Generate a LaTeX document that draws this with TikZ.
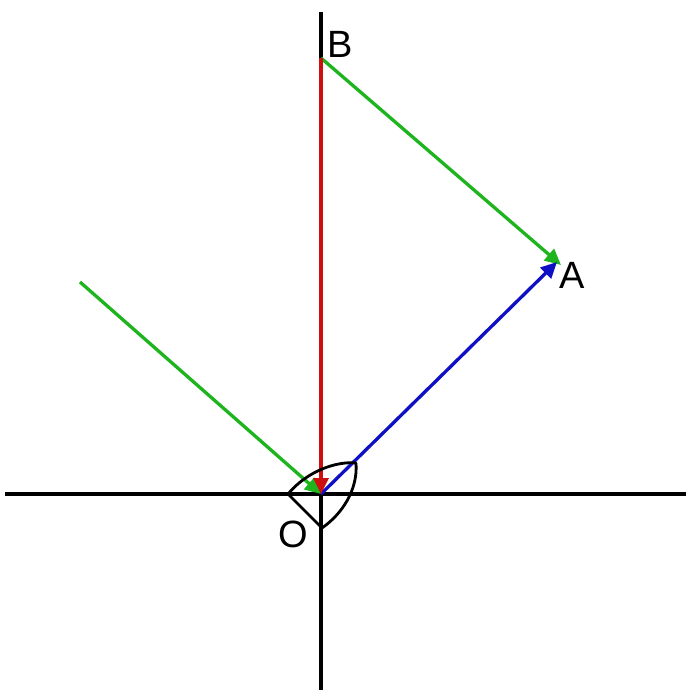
\documentclass[tikz,border=0pt]{standalone}
\usepackage{fontspec}
\setmainfont{Liberation Sans}
\usetikzlibrary{arrows.meta}
\definecolor{gline}{RGB}{30,180,30}
\definecolor{rline}{RGB}{205,15,15}
\definecolor{bline}{RGB}{15,15,195}
\tikzset{
  axis/.style={black,line width=3.4pt},
  vec/.style={line width=3.3pt,-{Triangle[length=16pt,width=15pt]}},
  lensmark/.style={black,line width=2.8pt,line join=round},
  lbl/.style={font=\fontsize{38}{42}\selectfont,inner sep=0pt}
}
\begin{document}
\begin{tikzpicture}[x=1pt,y=-1pt]
\useasboundingbox (0,0) rectangle (697,700);
\fill[white] (0,0) rectangle (697,700);
% points
\coordinate (O) at (321,494);
\coordinate (B) at (321,58);
\coordinate (A) at (561,265);
\coordinate (Ablue) at (557,262);
\coordinate (S) at (80,282);
\coordinate (xl) at (5,494);
\coordinate (xr) at (686,494);
\coordinate (yt) at (321,12);
\coordinate (yb) at (321,690);
\coordinate (m1) at (288,494);
\coordinate (m2) at (322,528);
\coordinate (m3) at (356,463);
% axes
\draw[axis] (xl) -- (xr);
\draw[axis] (yt) -- (yb);
% vectors
\draw[vec,gline] (B) -- (A);
\draw[vec,gline] (S) -- (O);
\draw[vec,bline] (O) -- (Ablue);
\draw[vec,rline] (B) -- (O);
% marker shape
\draw[lensmark] (m2) -- (m1) .. controls (308,470) and (338,461) .. (m3)
   .. controls (358,490) and (342,514) .. (m2);
% labels
\node[lbl] (lB) at (340,44) {B};
\node[lbl] (lA) at (572,275) {A};
\node[lbl] (lO) at (293,534) {O};
\end{tikzpicture}
\end{document}
